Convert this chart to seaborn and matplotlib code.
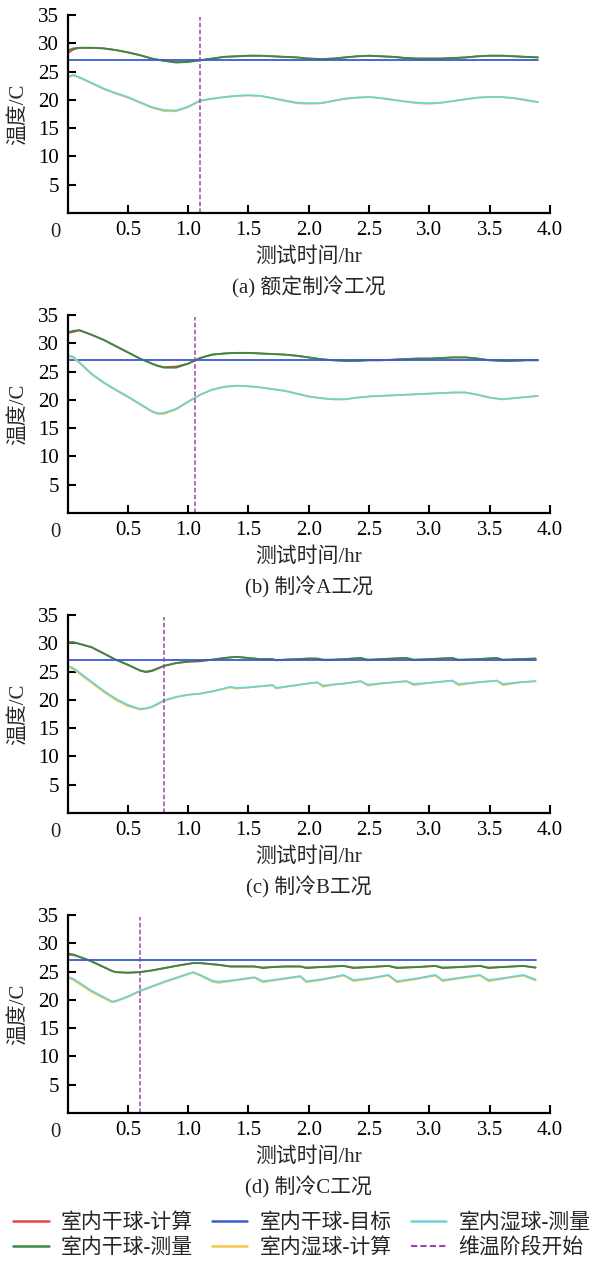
import matplotlib
matplotlib.use("Agg")
import matplotlib.pyplot as plt
from matplotlib.lines import Line2D
from matplotlib.transforms import ScaledTranslation
import seaborn as sns

sns.set_style("ticks")
plt.rcParams['font.family'] = ['Liberation Serif', 'Noto Sans CJK SC', 'DejaVu Sans']
plt.rcParams['axes.unicode_minus'] = False

# ---------------- data ----------------
series_labels = ["室内干球-计算", "室内干球-测量", "室内干球-目标",
                 "室内湿球-计算", "室内湿球-测量", "维温阶段开始"]
captions = ["(a) 额定制冷工况", "(b) 制冷A工况", "(c) 制冷B工况", "(d) 制冷C工况"]
x_label = "测试时间/hr"
y_label = "温度/C"
x_ticks = [0.5, 1.0, 1.5, 2.0, 2.5, 3.0, 3.5, 4.0]
y_ticks = [5, 10, 15, 20, 25, 30, 35]
target_temp = 27.0
hold_start = [1.1, 1.06, 0.8, 0.6]

# panel (a)
t_a = [0, 0.05, 0.1, 0.2, 0.3, 0.4, 0.5, 0.6, 0.7, 0.8, 0.9, 1.0, 1.1, 1.2, 1.3, 1.4,
       1.5, 1.6, 1.7, 1.8, 1.9, 2.0, 2.1, 2.2, 2.3, 2.4, 2.5, 2.6, 2.7, 2.8, 2.9, 3.0,
       3.1, 3.2, 3.3, 3.4, 3.5, 3.6, 3.7, 3.8, 3.9]
dry_calc_a = [28.2, 28.9, 29.2, 29.2, 29.1, 28.8, 28.4, 27.9, 27.3, 26.9, 26.7, 26.8, 27.0, 27.3, 27.6, 27.7,
              27.8, 27.8, 27.7, 27.6, 27.5, 27.3, 27.2, 27.3, 27.5, 27.7, 27.8, 27.7, 27.6, 27.4, 27.3, 27.3,
              27.3, 27.4, 27.5, 27.7, 27.8, 27.8, 27.7, 27.6, 27.5]
dry_meas_a = [28.7, 29.1, 29.2, 29.2, 29.1, 28.8, 28.4, 27.9, 27.3, 26.9, 26.6, 26.7, 27.0, 27.3, 27.6, 27.7,
              27.8, 27.8, 27.7, 27.6, 27.5, 27.3, 27.2, 27.3, 27.5, 27.7, 27.8, 27.7, 27.6, 27.4, 27.3, 27.3,
              27.3, 27.4, 27.5, 27.7, 27.8, 27.8, 27.7, 27.6, 27.5]
wet_calc_a = [24.0, 24.3, 23.9, 22.9, 21.9, 21.1, 20.4, 19.5, 18.6, 18.0, 18.0, 18.7, 19.8, 20.2, 20.5, 20.7,
              20.8, 20.7, 20.3, 19.8, 19.4, 19.3, 19.4, 19.8, 20.2, 20.4, 20.5, 20.3, 20.0, 19.7, 19.4, 19.3,
              19.5, 19.8, 20.1, 20.4, 20.5, 20.5, 20.3, 19.9, 19.6]
wet_meas_a = [24.1, 24.4, 24.0, 23.0, 22.0, 21.2, 20.5, 19.6, 18.7, 18.2, 18.1, 18.8, 19.9, 20.2, 20.5, 20.7,
              20.8, 20.7, 20.3, 19.9, 19.5, 19.4, 19.4, 19.8, 20.2, 20.4, 20.5, 20.3, 20.0, 19.7, 19.5, 19.4,
              19.5, 19.8, 20.1, 20.4, 20.5, 20.5, 20.3, 20.0, 19.6]

# panel (b)
t_b = [0, 0.05, 0.1, 0.2, 0.3, 0.4, 0.5, 0.6, 0.7, 0.75, 0.8, 0.9, 1.0, 1.1, 1.2, 1.3, 1.4,
       1.5, 1.6, 1.7, 1.8, 1.9, 2.0, 2.1, 2.2, 2.3, 2.4, 2.5, 2.6, 2.7, 2.8, 2.9, 3.0,
       3.1, 3.2, 3.3, 3.4, 3.5, 3.6, 3.7, 3.8, 3.9]
dry_calc_b = [31.8, 32.0, 32.3, 31.5, 30.6, 29.5, 28.4, 27.3, 26.4, 26.0, 25.8, 25.9, 26.4, 27.4, 28.0, 28.2, 28.3,
              28.3, 28.2, 28.1, 28.0, 27.8, 27.5, 27.2, 27.0, 26.9, 26.9, 27.0, 27.0, 27.1, 27.2, 27.3, 27.3,
              27.4, 27.5, 27.5, 27.3, 27.0, 26.9, 26.9, 27.0, 27.0]
dry_meas_b = [31.9, 32.2, 32.3, 31.5, 30.6, 29.5, 28.4, 27.3, 26.4, 26.0, 25.7, 25.7, 26.4, 27.4, 28.0, 28.2, 28.3,
              28.3, 28.2, 28.1, 28.0, 27.8, 27.5, 27.2, 27.0, 26.9, 26.9, 27.0, 27.0, 27.1, 27.2, 27.3, 27.3,
              27.4, 27.5, 27.5, 27.3, 27.0, 26.9, 26.9, 27.0, 27.0]
wet_calc_b = [27.8, 27.4, 26.5, 24.5, 23.0, 21.7, 20.5, 19.2, 17.9, 17.5, 17.5, 18.3, 19.6, 20.9, 21.8, 22.3, 22.5,
              22.4, 22.2, 21.9, 21.6, 21.1, 20.6, 20.3, 20.1, 20.1, 20.4, 20.6, 20.7, 20.8, 20.9, 21.0, 21.1,
              21.2, 21.3, 21.3, 20.9, 20.4, 20.1, 20.3, 20.5, 20.7]
wet_meas_b = [27.9, 27.6, 26.6, 24.6, 23.1, 21.8, 20.6, 19.3, 18.0, 17.6, 17.7, 18.4, 19.7, 20.9, 21.8, 22.3, 22.5,
              22.4, 22.2, 21.9, 21.6, 21.1, 20.6, 20.3, 20.1, 20.1, 20.4, 20.6, 20.7, 20.8, 20.9, 21.0, 21.1,
              21.2, 21.3, 21.3, 20.9, 20.4, 20.1, 20.3, 20.5, 20.7]

# panel (c)
t_c = [0, 0.05, 0.1, 0.2, 0.3, 0.4, 0.5, 0.6, 0.65, 0.7, 0.8, 0.9, 1.0, 1.1, 1.2, 1.3, 1.35,
       1.4, 1.5, 1.6, 1.7, 1.73, 1.8, 1.9, 2.0, 2.07, 2.12, 2.2, 2.3, 2.43, 2.49, 2.6, 2.7,
       2.81, 2.87, 3.0, 3.19, 3.24, 3.4, 3.56, 3.61, 3.75, 3.88]
dry_calc_c = [30.0, 30.1, 29.9, 29.3, 28.2, 27.1, 26.2, 25.2, 25.0, 25.2, 26.0, 26.5, 26.7, 26.8, 27.1, 27.4, 27.5,
              27.6, 27.4, 27.2, 27.2, 27.0, 27.1, 27.2, 27.3, 27.3, 27.0, 27.1, 27.2, 27.4, 27.0, 27.2, 27.3,
              27.4, 27.0, 27.2, 27.4, 27.0, 27.2, 27.4, 27.0, 27.2, 27.3]
dry_meas_c = [30.2, 30.2, 29.9, 29.3, 28.2, 27.1, 26.2, 25.2, 24.9, 25.1, 26.0, 26.5, 26.8, 26.9, 27.1, 27.4, 27.5,
              27.6, 27.4, 27.2, 27.2, 27.0, 27.1, 27.2, 27.3, 27.3, 27.1, 27.1, 27.2, 27.4, 27.1, 27.2, 27.3,
              27.4, 27.1, 27.2, 27.4, 27.1, 27.2, 27.4, 27.1, 27.2, 27.3]
wet_calc_c = [25.9, 25.4, 24.6, 23.0, 21.4, 20.0, 18.9, 18.3, 18.4, 18.7, 19.8, 20.5, 20.9, 21.1, 21.5, 22.0, 22.2,
              22.0, 22.2, 22.4, 22.6, 22.0, 22.3, 22.6, 22.9, 23.1, 22.3, 22.7, 22.9, 23.3, 22.5, 22.9, 23.1,
              23.3, 22.6, 23.0, 23.4, 22.6, 23.1, 23.4, 22.6, 23.1, 23.3]
wet_meas_c = [26.0, 25.6, 24.8, 23.2, 21.6, 20.2, 19.1, 18.4, 18.5, 18.8, 19.9, 20.5, 20.9, 21.1, 21.5, 22.0, 22.3,
              22.1, 22.2, 22.4, 22.6, 22.1, 22.3, 22.6, 22.9, 23.1, 22.5, 22.7, 22.9, 23.3, 22.7, 22.9, 23.1,
              23.3, 22.8, 23.0, 23.4, 22.8, 23.1, 23.4, 22.8, 23.1, 23.3]

# panel (d)
t_d = [0, 0.05, 0.1, 0.2, 0.3, 0.37, 0.4, 0.5, 0.6, 0.7, 0.8, 0.9, 1.04, 1.1, 1.2, 1.25, 1.35,
       1.45, 1.55, 1.62, 1.7, 1.8, 1.93, 1.98, 2.1, 2.2, 2.29, 2.37, 2.5, 2.66, 2.73, 2.9,
       3.05, 3.11, 3.25, 3.42, 3.49, 3.6, 3.78, 3.88]
dry_calc_d = [28.0, 27.9, 27.6, 26.8, 25.8, 25.1, 24.9, 24.8, 24.9, 25.2, 25.6, 26.0, 26.5, 26.5, 26.3, 26.2, 25.9,
              25.9, 25.9, 25.6, 25.8, 25.9, 25.9, 25.6, 25.8, 25.9, 26.0, 25.6, 25.8, 26.0, 25.6, 25.8,
              26.0, 25.6, 25.8, 26.0, 25.6, 25.8, 26.0, 25.7]
dry_meas_d = [28.2, 28.0, 27.6, 26.8, 25.8, 25.1, 24.9, 24.8, 24.9, 25.2, 25.6, 26.0, 26.5, 26.5, 26.3, 26.2, 25.9,
              25.9, 25.9, 25.7, 25.8, 25.9, 25.9, 25.7, 25.8, 25.9, 26.0, 25.7, 25.8, 26.0, 25.7, 25.8,
              26.0, 25.7, 25.8, 26.0, 25.7, 25.8, 26.0, 25.7]
wet_calc_d = [24.0, 23.5, 22.8, 21.4, 20.3, 19.6, 19.7, 20.5, 21.5, 22.3, 23.1, 23.8, 24.8, 24.3, 23.2, 23.0, 23.3,
              23.6, 23.9, 23.1, 23.4, 23.7, 24.1, 23.1, 23.5, 23.9, 24.3, 23.3, 23.7, 24.3, 23.1, 23.7,
              24.3, 23.3, 23.8, 24.3, 23.3, 23.7, 24.3, 23.4]
wet_meas_d = [24.1, 23.7, 23.0, 21.6, 20.5, 19.7, 19.8, 20.6, 21.6, 22.4, 23.2, 23.9, 24.9, 24.4, 23.4, 23.2, 23.4,
              23.7, 24.0, 23.3, 23.5, 23.8, 24.2, 23.3, 23.6, 24.0, 24.4, 23.5, 23.8, 24.4, 23.3, 23.8,
              24.4, 23.5, 23.9, 24.4, 23.5, 23.8, 24.4, 23.6]

panels = [
    (t_a, dry_calc_a, dry_meas_a, wet_calc_a, wet_meas_a),
    (t_b, dry_calc_b, dry_meas_b, wet_calc_b, wet_meas_b),
    (t_c, dry_calc_c, dry_meas_c, wet_calc_c, wet_meas_c),
    (t_d, dry_calc_d, dry_meas_d, wet_calc_d, wet_meas_d),
]

# ---------------- style ----------------
C_RED = "#e8453c"
C_GREEN = "#3b8a44"
C_BLUE = "#3a5bd0"
C_YELLOW = "#f5c84a"
C_CYAN = "#6fd2d2"
C_PURPLE = "#9a45b0"
FS = 15

W, H = 593, 1265
fig = plt.figure(figsize=(W / 100, H / 100), dpi=100)

ax_left = 67.5 / W
ax_w = (550 - 67.5) / W
ax_h = 198 / H
tops = [15, 315, 615, 915]

for i, (t, dc, dm, wc, wm) in enumerate(panels):
    bottom_px = tops[i] + 198
    ax = fig.add_axes([ax_left, 1 - bottom_px / H, ax_w, ax_h])
    sns.lineplot(x=t, y=dc, ax=ax, color=C_RED, linewidth=1.2)
    sns.lineplot(x=t, y=dm, ax=ax, color=C_GREEN, linewidth=1.4)
    ax.plot([0, t[-1]], [target_temp, target_temp], color=C_BLUE, linewidth=1.3)
    sns.lineplot(x=t, y=wc, ax=ax, color=C_YELLOW, linewidth=1.3)
    sns.lineplot(x=t, y=wm, ax=ax, color=C_CYAN, linewidth=1.3)
    ax.plot([hold_start[i], hold_start[i]], [0, 34.6], color=C_PURPLE,
            linewidth=1.1, linestyle=(0, (3, 1.5)))

    ax.set_xlim(0, 4.0)
    ax.set_ylim(0, 35)
    ax.set_xticks(x_ticks)
    ax.set_xticklabels([f"{v:.1f}" for v in x_ticks])
    ax.set_yticks(y_ticks)
    ax.set_yticklabels([str(v) for v in y_ticks])
    sns.despine(ax=ax)
    for s in ["left", "bottom"]:
        ax.spines[s].set_linewidth(1.6)
        ax.spines[s].set_color("black")
    ax.tick_params(axis="both", direction="in", length=6, width=1.5,
                   labelsize=FS, colors="black")
    ax.tick_params(axis="x", pad=6)
    ax.tick_params(axis="y", pad=6)
    ax.set_xlabel(x_label, fontsize=FS)
    ax.xaxis.set_label_coords(0.5, -0.175)
    ax.set_ylabel(y_label, fontsize=FS)
    ax.yaxis.set_label_coords(-0.082, 0.5)
    ax.text(0, 0, "0", fontsize=FS, ha="center", va="top",
            transform=ax.transData + ScaledTranslation(-12.5 / 100, -10 / 100, fig.dpi_scale_trans))
    ax.text(0.5, -0.375, captions[i], fontsize=FS, ha="center", va="center",
            transform=ax.transAxes)
    ax.grid(False)

handles = [
    Line2D([], [], color=C_RED, linewidth=1.8),
    Line2D([], [], color=C_GREEN, linewidth=1.8),
    Line2D([], [], color=C_BLUE, linewidth=1.8),
    Line2D([], [], color=C_YELLOW, linewidth=1.8),
    Line2D([], [], color=C_CYAN, linewidth=1.8),
    Line2D([], [], color=C_PURPLE, linewidth=1.5, linestyle=(0, (3, 1.5))),
]
fig.legend(handles, series_labels, ncol=3, loc="center",
           bbox_to_anchor=(302 / W, 1 - 1236 / H), frameon=False, fontsize=FS,
           handlelength=1.7, handletextpad=0.6, columnspacing=0.9,
           labelspacing=0.25, borderpad=0.1)

fig.savefig("out.png", dpi=100)
